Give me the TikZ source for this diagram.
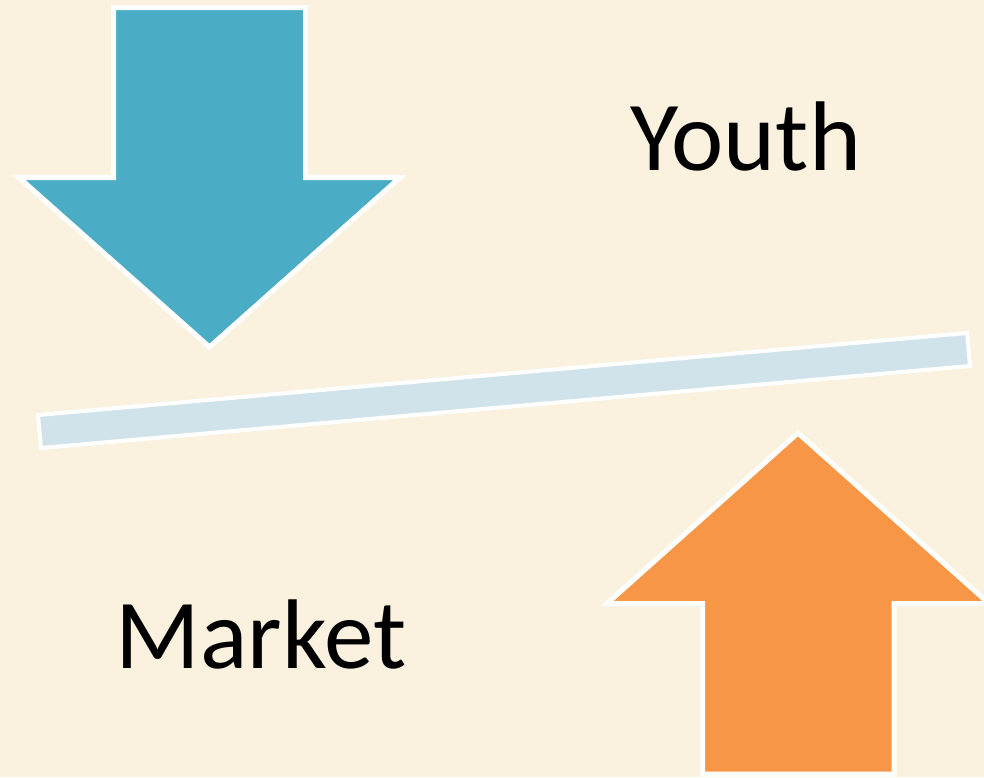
\documentclass[tikz,border=0pt]{standalone}
\usepackage{fontspec}
\setmainfont{Carlito}
\definecolor{bgc}{HTML}{FAF2DF}
\definecolor{aqua}{HTML}{4BACC6}
\definecolor{orng}{HTML}{F79646}
\definecolor{barc}{HTML}{D0E3EA}
\begin{document}
\begin{tikzpicture}[x=1pt,y=-1pt,
  arrshape/.style={draw=white,line width=5pt,line join=miter},
  bigtext/.style={font=\fontsize{99}{99}\selectfont,text=black,inner sep=0pt,anchor=base}]
\fill[bgc] (0,0) rectangle (984,777);
\useasboundingbox (0,0) rectangle (984,777);
% blue down arrow
\filldraw[arrshape,fill=aqua] (113.5,7.5) -- (305.5,7.5) -- (305.5,177.5) -- (400,177.5)
  -- (209.5,347) -- (19,177.5) -- (113.5,177.5) -- cycle;
% bar
\filldraw[arrshape,line width=4pt,fill=barc] (38,415) -- (967,333) -- (970,366) -- (41,448) -- cycle;
% orange up arrow
\begin{scope}
\clip (0,0) rectangle (984,777);
\filldraw[arrshape,fill=orng] (798,433) -- (989,603.5) -- (894,603.5) -- (894,774)
  -- (702.5,774) -- (702.5,603.5) -- (607,603.5) -- cycle;
\end{scope}
\node[bigtext] (youth) at (746,170) {Youth};
\node[bigtext] (market) at (261,668) {Market};
\end{tikzpicture}
\end{document}
